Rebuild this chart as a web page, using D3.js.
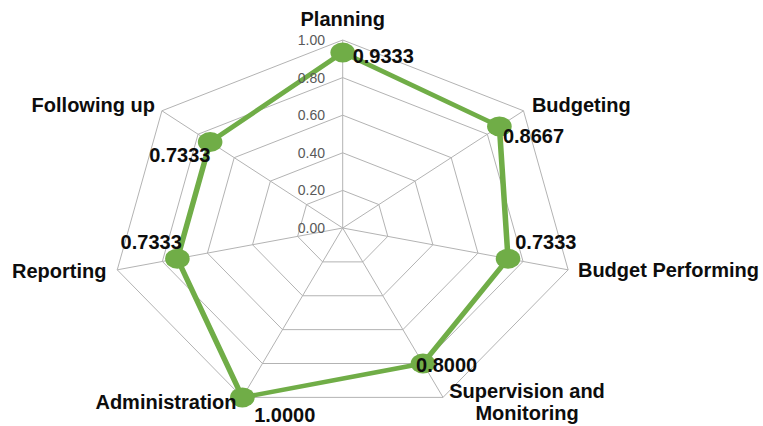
<!DOCTYPE html>
<html>
<head>
<meta charset="utf-8">
<script src="https://cdn.jsdelivr.net/npm/d3@7"></script>
<style>
  html, body { margin: 0; padding: 0; background: #ffffff; }
  svg { display: block; }
</style>
</head>
<body>
<svg id="chart" width="763" height="426"></svg>
<script>
// ---- data ----
const categories = ["Planning", "Budgeting", "Budget Performing", "Supervision and Monitoring", "Administration", "Reporting", "Following up"];
const values = [0.9333, 0.8667, 0.7333, 0.8000, 1.0000, 0.7333, 0.7333];
const valueLabels = ["0.9333", "0.8667", "0.7333", "0.8000", "1.0000", "0.7333", "0.7333"];
const tickValues = [0, 0.2, 0.4, 0.6, 0.8, 1.0];
const tickLabels = ["0.00", "0.20", "0.40", "0.60", "0.80", "1.00"];

// ---- layout ----
const W = 763, H = 426;
const cx = 342.7, cy = 228;
const sx = 1.23;            // horizontal stretch of the plot area
const radius = 188;
const green = "#70AD47";
const gridColor = "#b3b3b3";
const font = "Arial, 'Liberation Sans', sans-serif";

// category label offsets from the outer vertex (screen px) and anchors
const catLayout = [
  {dx: 0, dy: -14, anchor: "middle"},
  {dx: 8.4, dy: 1.5, anchor: "start"},
  {dx: 9.8, dy: 7.5, anchor: "start"},
  {dx: 84, dy: 1, anchor: "middle"},
  {dx: -5.8, dy: 12, anchor: "end"},
  {dx: -10.8, dy: 8.5, anchor: "end"},
  {dx: -7, dy: 1.5, anchor: "end"}
];
// value label offsets from the marker (screen px)
const valLayout = [
  {dx: 10, dy: 10.2, anchor: "start"},
  {dx: 3.5, dy: 16.3, anchor: "start"},
  {dx: 7.2, dy: -9.4, anchor: "start"},
  {dx: -6.9, dy: 8.2, anchor: "start"},
  {dx: 11.8, dy: 24.3, anchor: "start"},
  {dx: -26.2, dy: -9.4, anchor: "middle"},
  {dx: -30.3, dy: 19.7, anchor: "middle"}
];

const svg = d3.select("#chart");
const r = d3.scaleLinear().domain([0, 1]).range([0, radius]);
const n = categories.length;
const angle = d3.scaleLinear().domain([0, n]).range([0, 2 * Math.PI]);

// unstretched coordinates (inside scaled group)
const px = (i, v) => r(v) * Math.sin(angle(i));
const py = (i, v) => -r(v) * Math.cos(angle(i));
// screen coordinates
const sxp = (i, v) => cx + sx * px(i, v);
const syp = (i, v) => cy + py(i, v);

const g = svg.append("g").attr("transform", `translate(${cx},${cy}) scale(${sx},1)`);

// grid rings
const ringLine = d3.line().x(d => d[0]).y(d => d[1]);
tickValues.filter(t => t > 0).forEach(t => {
  const pts = d3.range(n).map(i => [px(i, t), py(i, t)]);
  pts.push(pts[0]);
  g.append("path")
    .attr("d", ringLine(pts))
    .attr("fill", "none")
    .attr("stroke", gridColor)
    .attr("stroke-width", 1)
    .attr("vector-effect", "non-scaling-stroke");
});
// spokes
d3.range(n).forEach(i => {
  g.append("line")
    .attr("x1", 0).attr("y1", 0)
    .attr("x2", px(i, 1)).attr("y2", py(i, 1))
    .attr("stroke", gridColor)
    .attr("stroke-width", 1)
    .attr("vector-effect", "non-scaling-stroke");
});

// data polygon
const dataPts = values.map((v, i) => [px(i, v), py(i, v)]);
g.append("path")
  .attr("d", d3.line().curve(d3.curveLinearClosed)(dataPts))
  .attr("fill", "none")
  .attr("stroke", green)
  .attr("stroke-width", 4.5)
  .attr("stroke-linejoin", "round");

// markers
g.selectAll("circle.marker")
  .data(values)
  .enter().append("circle")
  .attr("class", "marker")
  .attr("cx", (v, i) => px(i, v))
  .attr("cy", (v, i) => py(i, v))
  .attr("r", 10)
  .attr("fill", green);

// tick labels
tickValues.forEach((t, k) => {
  svg.append("text")
    .attr("x", cx - 17.7)
    .attr("y", cy - r(t))
    .attr("text-anchor", "end")
    .attr("dy", "0.36em")
    .attr("font-family", font)
    .attr("font-size", 14)
    .attr("fill", "#595959")
    .text(tickLabels[k]);
});

// category labels
categories.forEach((c, i) => {
  const L = catLayout[i];
  const t = svg.append("text")
    .attr("transform", `translate(${sxp(i, 1) + L.dx},${syp(i, 1) + L.dy})`)
    .attr("text-anchor", L.anchor)
    .attr("font-family", font)
    .attr("font-size", 20)
    .attr("font-weight", "bold")
    .attr("fill", "#0d0d0d");
  if (c === "Supervision and Monitoring") {
    t.append("tspan").attr("x", 0).attr("y", 0).text("Supervision and");
    t.append("tspan").attr("x", 0).attr("y", 22).text("Monitoring");
  } else {
    t.text(c);
  }
});

// value labels
values.forEach((v, i) => {
  const L = valLayout[i];
  svg.append("text")
    .attr("x", sxp(i, v) + L.dx)
    .attr("y", syp(i, v) + L.dy)
    .attr("text-anchor", L.anchor)
    .attr("font-family", font)
    .attr("font-size", 20)
    .attr("font-weight", "bold")
    .attr("fill", "#0d0d0d")
    .text(valueLabels[i]);
});
</script>
</body>
</html>
